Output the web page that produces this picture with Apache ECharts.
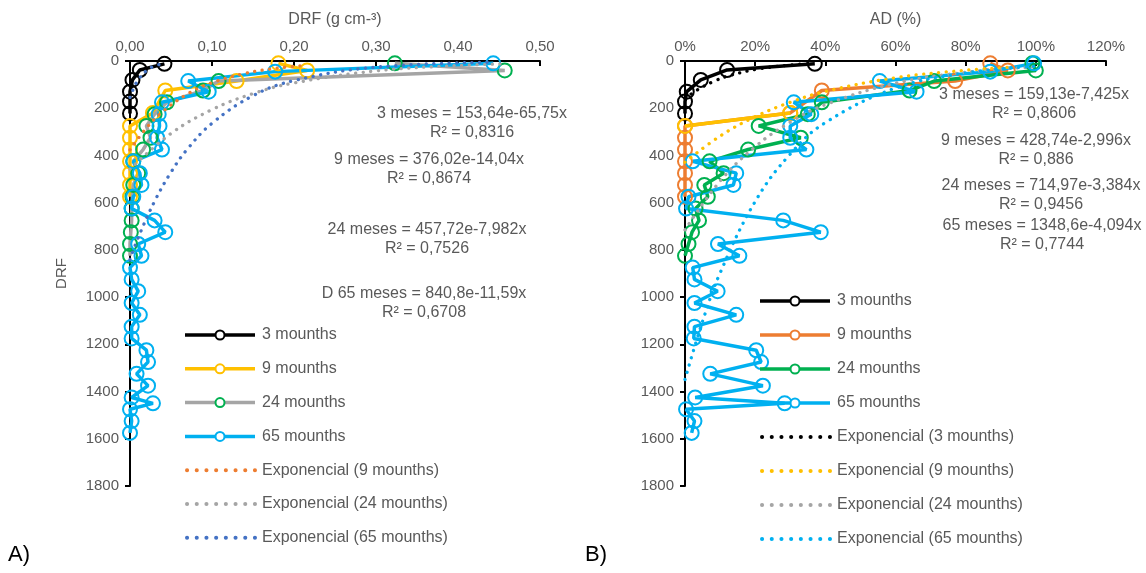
<!DOCTYPE html>
<html><head><meta charset="utf-8">
<script src="https://cdn.jsdelivr.net/npm/echarts@6/dist/echarts.min.js"></script>
<style>html,body{margin:0;padding:0;background:#fff}#c{width:1146px;height:573px}</style>
</head><body><div id="c"></div>
<script>
// ---------- data ----------
const depth3  = [12, 38, 80, 130, 172, 222];
const depth9  = [10, 40, 85, 125, 220, 275, 325, 375, 425, 475, 525, 575];
const depth24 = [10, 40, 85, 125, 175, 225, 275, 325, 375, 425, 475, 525, 575, 625, 675, 725, 775, 825];
const depth65 = [10, 45, 85, 130, 175, 225, 275, 325, 375, 425, 475, 525, 575, 625, 675, 725, 775, 825,
                 875, 925, 975, 1025, 1075, 1125, 1175, 1225, 1275, 1325, 1375, 1425, 1450, 1475, 1525, 1575];

// panel A: DRF (g cm-3)
const drf3  = [0.042, 0.012, 0.003, 0, 0, 0];
const drf9  = [0.181, 0.216, 0.130, 0.043, 0.028, 0, 0, 0, 0, 0, 0, 0];
const drf24 = [0.323, 0.457, 0.108, 0.089, 0.045, 0.030, 0.020, 0.025, 0.016, 0.004, 0.010, 0.004, 0.003, 0.002, 0.002, 0.001, 0, 0];
const drf65 = [0.443, 0.177, 0.071, 0.096, 0.039, 0.035, 0.036, 0.033, 0.039, 0.004, 0.012, 0.014, 0.004, 0.002, 0.030, 0.043, 0.010, 0.014,
               0.000, 0.002, 0.010, 0.002, 0.012, 0.002, 0.002, 0.020, 0.022, 0.008, 0.022, 0.002, 0.028, 0.000, 0.002, 0.000];

// panel B: AD (%)
const ad3  = [37, 12, 4.5, 0.5, 0, 0];
const ad9  = [87, 92, 77, 39, 30, 0, 0, 0, 0, 0, 0, 0];
const ad9segX = [30, 0];
const ad9segD = [220, 275];
const ad24 = [99, 100, 71, 64, 39, 35, 21, 33, 18, 7, 11, 5.5, 6.5, 3, 4, 2, 1, 0];
const ad65 = [99.5, 87, 55.5, 66, 31, 36, 30, 30, 34.6, 2.2, 14.6, 13.8, 1.0, 0.3, 28, 38.7, 9.4, 15.5,
              2.2, 2.7, 9.3, 2.7, 14.6, 2.7, 2.5, 20.3, 21.7, 7.2, 22.2, 2.9, 28.4, 0.3, 2.7, 1.9];

// trend curves, points
const tA3x  = [0, 0.005, 0.01, 0.02, 0.03, 0.042];            const tA3d  = [154, 111, 80, 41, 21, 10];
const tA9x  = [0, 0.02, 0.04, 0.07, 0.10, 0.14, 0.18, 0.216]; const tA9d  = [376, 284, 214, 140, 92, 53, 30, 18];
const tA24x = [0, 0.05, 0.10, 0.15, 0.20, 0.30, 0.40, 0.457]; const tA24d = [458, 307, 206, 138, 93, 42, 19, 12];
const tA65x = [0, 0.01, 0.03, 0.05, 0.07, 0.10, 0.15, 0.20, 0.30, 0.443]; const tA65d = [841, 748, 594, 471, 373, 264, 147, 83, 26, 5];

const tB3x  = [0, 4, 8, 12, 20, 30, 37];             const tB3d  = [159, 118, 88, 65, 36, 17, 10];
const tB9x  = [0, 10, 20, 30, 40, 60, 80, 92];       const tB9d  = [429, 318, 236, 175, 129, 71, 39, 27];
const tB24x = [0, 10, 20, 30, 40, 60, 80, 100];      const tB24d = [715, 509, 363, 259, 185, 94, 48, 24];
const tB65x = [0, 5, 10, 20, 30, 40, 60, 80, 100];   const tB65d = [1349, 1103, 898, 595, 394, 261, 115, 51, 22];

// axis ticks
const yTicks = [0, 200, 400, 600, 800, 1000, 1200, 1400, 1600, 1800];
const drfTicks = [0, 0.1, 0.2, 0.3, 0.4, 0.5];
const adTicks = [0, 20, 40, 60, 80, 100, 120];

const eqA = [
  ['3 meses = 153,64e-65,75x', 'R² = 0,8316'],
  ['9 meses = 376,02e-14,04x', 'R² = 0,8674'],
  ['24 meses = 457,72e-7,982x', 'R² = 0,7526'],
  ['D 65 meses = 840,8e-11,59x', 'R² = 0,6708']
];
const eqB = [
  ['3 meses = 159,13e-7,425x', 'R² = 0,8606'],
  ['9 meses = 428,74e-2,996x', 'R² = 0,886'],
  ['24 meses = 714,97e-3,384x', 'R² = 0,9456'],
  ['65 meses = 1348,6e-4,094x', 'R² = 0,7744']
];

const legendA = ['3 mounths', '9 mounths', '24 mounths', '65 mounths',
                 'Exponencial (9 mounths)', 'Exponencial (24 mounths)', 'Exponencial (65 mounths)'];
const legendB = ['3 mounths', '9 mounths', '24 mounths', '65 mounths',
                 'Exponencial (3 mounths)', 'Exponencial (9 mounths)', 'Exponencial (24 mounths)', 'Exponencial (65 mounths)'];

// ---------- chart ----------
const pts = (xs, ys) => xs.map((x, i) => [x, ys[i]]);
const FONT = '"Liberation Sans", Arial, sans-serif';
const GREY_TXT = '#595959';
const C = {black:'#000000', yellow:'#FFC000', grey:'#A5A5A5', blue:'#00B0F0', green:'#00B050', orange:'#ED7D31', dblue:'#4472C4'};

function dataSeries(name, panel, xs, ys, lineColor, markColor) {
  return {
    name, type: 'line', xAxisIndex: panel, yAxisIndex: panel,
    data: pts(xs, ys), clip: false, symbol: 'circle', symbolSize: 14,
    itemStyle: {color: 'rgba(255,255,255,0)', borderColor: markColor, borderWidth: 2},
    lineStyle: {color: lineColor, width: 3.5},
    emphasis: {disabled: true}, z: 3
  };
}
function trendSeries(name, panel, xs, ys, color) {
  return {
    name, type: 'line', xAxisIndex: panel, yAxisIndex: panel,
    data: pts(xs, ys), clip: false, symbol: 'none', smooth: 0.4,
    itemStyle: {color},
    lineStyle: {color, width: 3.3, type: [0.1, 7.5], cap: 'round'},
    emphasis: {disabled: true}, z: 4
  };
}

const axisLine = {show: true, onZero: false, lineStyle: {color: '#000', width: 2}};
const axisTick = (inside) => ({show: true, inside, length: 5, lineStyle: {color: '#000', width: 2}});
const lbl = (fmt, margin) => ({color: GREY_TXT, fontSize: 15, fontFamily: FONT, margin, formatter: fmt});

const g = [];
const txt = (x, y, s, size, fill, align) => g.push({type:'text', x, y, z: 10,
  style:{text: s, fill: fill || GREY_TXT, font: size + 'px ' + FONT, align: align || 'center', verticalAlign: 'middle'}});

const eqAY = [114, 160, 230, 294], eqAX = [472, 429, 427, 424];
eqA.forEach((e, i) => { txt(eqAX[i], eqAY[i], e[0], 16); txt(eqAX[i], eqAY[i] + 19, e[1], 16); });
const eqBY = [95, 141, 186, 226], eqBX = [1034, 1036, 1041, 1042];
eqB.forEach((e, i) => { txt(eqBX[i], eqBY[i], e[0], 16); txt(eqBX[i], eqBY[i] + 19, e[1], 16); });
txt(8, 555, 'A)', 22, '#000', 'left');
txt(585, 555, 'B)', 22, '#000', 'left');

// legends (drawn as graphics)
function legendItem(x0, y, label, color, markColor, dotted) {
  if (dotted) {
    g.push({type:'line', z: 10, shape:{x1: x0 + 2, y1: y, x2: x0 + 70, y2: y},
      style:{stroke: color, lineWidth: 4, lineDash: [0.1, 9.6], lineCap: 'round'}});
  } else {
    g.push({type:'line', z: 10, shape:{x1: x0, y1: y, x2: x0 + 70, y2: y},
      style:{stroke: color, lineWidth: 3.5}});
    g.push({type:'circle', z: 11, shape:{cx: x0 + 35, cy: y, r: 4.5},
      style:{fill: '#ffffff', stroke: markColor, lineWidth: 2}});
  }
  txt(x0 + 77, y, label, 16, GREY_TXT, 'left');
}
const legAColors = [[C.black, C.black], [C.yellow, C.yellow], [C.grey, C.green], [C.blue, C.blue],
                    [C.orange], [C.grey], [C.dblue]];
legendA.forEach((n, i) => legendItem(185, 335 + i * 33.8, n, legAColors[i][0], legAColors[i][1], i >= 4));
const legBColors = [[C.black, C.black], [C.orange, C.orange], [C.green, C.green], [C.blue, C.blue],
                    [C.black], [C.yellow], [C.grey], [C.blue]];
legendB.forEach((n, i) => legendItem(760, 301 + i * 34, n, legBColors[i][0], legBColors[i][1], i >= 4));

const option = {
  animation: false,
  textStyle: {fontFamily: FONT},
  grid: [
    {left: 130, top: 61, width: 410, height: 425},
    {left: 685, top: 61, width: 421, height: 425}
  ],
  xAxis: [
    {type: 'value', gridIndex: 0, position: 'top', min: drfTicks[0], max: drfTicks[drfTicks.length - 1], interval: 0.1,
     name: 'DRF (g cm-³)', nameLocation: 'middle', nameGap: 33,
     nameTextStyle: {color: GREY_TXT, fontSize: 16, fontFamily: FONT},
     axisLine, axisTick: axisTick(true), splitLine: {show: false},
     axisLabel: lbl(v => v.toFixed(2).replace('.', ','), 7)},
    {type: 'value', gridIndex: 1, position: 'top', min: adTicks[0], max: adTicks[adTicks.length - 1], interval: 20,
     name: 'AD (%)', nameLocation: 'middle', nameGap: 33,
     nameTextStyle: {color: GREY_TXT, fontSize: 16, fontFamily: FONT},
     axisLine, axisTick: axisTick(true), splitLine: {show: false},
     axisLabel: lbl(v => v + '%', 7)}
  ],
  yAxis: [
    {type: 'value', gridIndex: 0, inverse: true, min: yTicks[0], max: yTicks[yTicks.length - 1], interval: 200,
     name: 'DRF', nameLocation: 'middle', nameGap: 61,
     nameTextStyle: {color: GREY_TXT, fontSize: 15, fontFamily: FONT},
     axisLine, axisTick: axisTick(false), splitLine: {show: false},
     axisLabel: lbl(v => String(v), 11)},
    {type: 'value', gridIndex: 1, inverse: true, min: yTicks[0], max: yTicks[yTicks.length - 1], interval: 200,
     axisLine, axisTick: axisTick(false), splitLine: {show: false},
     axisLabel: lbl(v => String(v), 11)}
  ],
  series: [
    dataSeries('3 mounths', 0, drf3, depth3, C.black, C.black),
    dataSeries('9 mounths', 0, drf9, depth9, C.yellow, C.yellow),
    dataSeries('24 mounths', 0, drf24, depth24, C.grey, C.green),
    dataSeries('65 mounths', 0, drf65, depth65, C.blue, C.blue),
    trendSeries('Exponencial (3 mounths) A', 0, tA3x, tA3d, C.dblue),
    trendSeries('Exponencial (9 mounths)', 0, tA9x, tA9d, C.orange),
    trendSeries('Exponencial (24 mounths)', 0, tA24x, tA24d, C.grey),
    trendSeries('Exponencial (65 mounths)', 0, tA65x, tA65d, C.dblue),
    dataSeries('B:3 mounths', 1, ad3, depth3, C.black, C.black),
    dataSeries('B:9 mounths', 1, ad9, depth9, C.orange, C.orange),
    dataSeries('B:9 seg', 1, ad9segX, ad9segD, C.yellow, C.yellow),
    dataSeries('B:24 mounths', 1, ad24, depth24, C.green, C.green),
    dataSeries('B:65 mounths', 1, ad65, depth65, C.blue, C.blue),
    trendSeries('B:Exponencial (3 mounths)', 1, tB3x, tB3d, C.black),
    trendSeries('B:Exponencial (9 mounths)', 1, tB9x, tB9d, C.yellow),
    trendSeries('B:Exponencial (24 mounths)', 1, tB24x, tB24d, C.grey),
    trendSeries('B:Exponencial (65 mounths)', 1, tB65x, tB65d, C.blue)
  ],
  graphic: g
};

const chart = echarts.init(document.getElementById('c'), null, {renderer: 'canvas'});
chart.setOption(option);
</script>
</body></html>
